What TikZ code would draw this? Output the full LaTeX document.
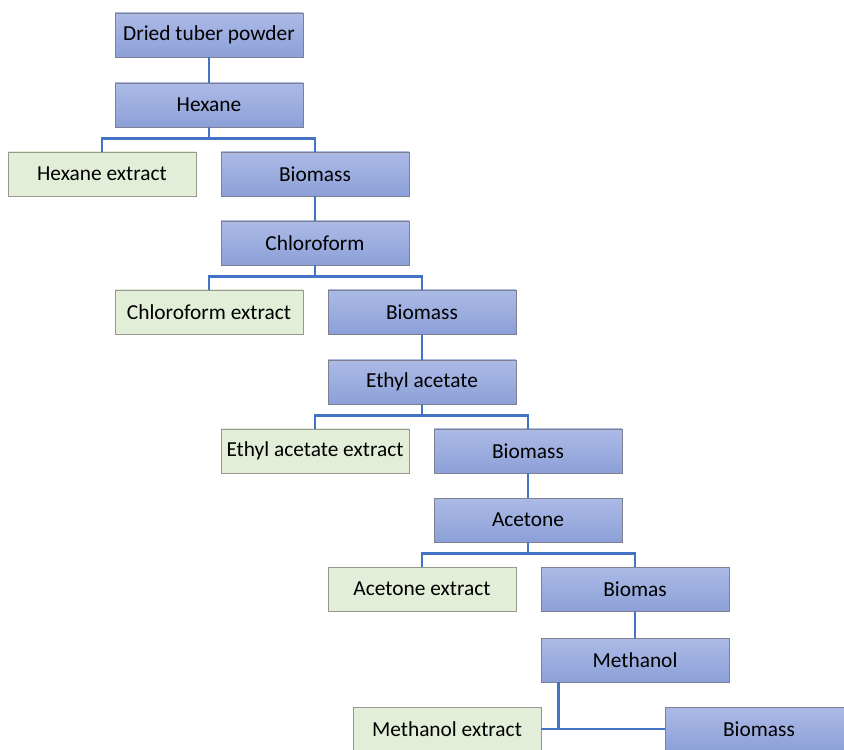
\documentclass[tikz,border=0pt]{standalone}
\usepackage{fontspec}
\setmainfont{Carlito}
\usetikzlibrary{positioning}
\definecolor{SolvTop}{RGB}{172,186,230}
\definecolor{SolvBot}{RGB}{140,160,216}
\definecolor{SolvEdge}{RGB}{125,128,145}
\definecolor{ExtrFill}{RGB}{226,238,216}
\definecolor{ExtrEdge}{RGB}{150,152,140}
\definecolor{LinkBlue}{RGB}{68,114,196}

\begin{document}
\begin{tikzpicture}[
            solv/.style={rectangle, minimum width=4.7cm, minimum height=1.1cm,
                         draw=SolvEdge, line width=0.6pt, top color=SolvTop,
                         bottom color=SolvBot, align=center,
                         font=\fontsize{15.2}{18}\selectfont},
            extr/.style={solv, fill=ExtrFill, draw=ExtrEdge, top color=ExtrFill,
                         bottom color=ExtrFill},
            lnk/.style={draw=LinkBlue, line width=1.9pt}
          ]
          \clip (0,0) rectangle (21.1,18.725);
          % main column of solvents
          \node[solv] (dried) at (5.225, 17.85) {Dried tuber powder};
          \node[solv] (hex)   at (5.225, 16.1)  {Hexane};
          \node[extr] (hexext) at (2.55, 14.375) {Hexane extract};
          \node[solv] (bio1)  at (7.875, 14.375) {Biomass};
          \node[solv] (chl)   at (7.875, 12.65) {Chloroform};
          \node[extr] (chlext) at (5.225, 10.925) {Chloroform extract};
          \node[solv] (bio2)  at (10.55, 10.925) {Biomass};
          \node[solv] (eth)   at (10.55, 9.175) {Ethyl acetate};
          \node[extr] (ethext) at (7.875, 7.45) {Ethyl acetate extract};
          \node[solv] (bio3)  at (13.2, 7.45) {Biomass};
          \node[solv] (ace)   at (13.2, 5.725) {Acetone};
          \node[extr] (aceext) at (10.55, 4.0) {Acetone extract};
          \node[solv] (bio4)  at (15.875, 4.0) {Biomas};
          \node[solv] (meth)  at (15.875, 2.225) {Methanol};
          \node[extr] (methext) at (11.175, 0.5) {Methanol extract};
          \node[solv] (bio5)  at (18.975, 0.5) {Biomass};

          % connectors
          \draw[lnk] (dried) -- (hex);
          \draw[lnk] (hex.south) -- ++(0,-0.28) -| (hexext.north);
          \draw[lnk] (hex.south) -- ++(0,-0.28) -| (bio1.north);
          \draw[lnk] (bio1) -- (chl);
          \draw[lnk] (chl.south) -- ++(0,-0.28) -| (chlext.north);
          \draw[lnk] (chl.south) -- ++(0,-0.28) -| (bio2.north);
          \draw[lnk] (bio2) -- (eth);
          \draw[lnk] (eth.south) -- ++(0,-0.28) -| (ethext.north);
          \draw[lnk] (eth.south) -- ++(0,-0.28) -| (bio3.north);
          \draw[lnk] (bio3) -- (ace);
          \draw[lnk] (ace.south) -- ++(0,-0.28) -| (aceext.north);
          \draw[lnk] (ace.south) -- ++(0,-0.28) -| (bio4.north);
          \draw[lnk] (bio4) -- (meth);
          \draw[lnk] ([xshift=0.45cm]meth.south west) |- (methext.east);
          \draw[lnk] (methext.east) -- (bio5.west);
        \end{tikzpicture}
\end{document}
